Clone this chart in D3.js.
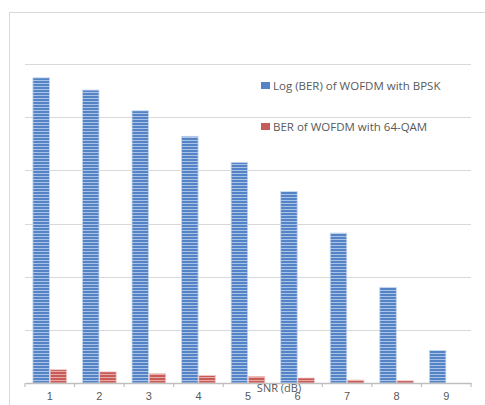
<!DOCTYPE html>
<html>
<head>
<meta charset="utf-8">
<script src="https://cdn.jsdelivr.net/npm/d3@7"></script>
<style>
  body { margin: 0; background: #fff; }
  svg { display: block; font-family: "Open Sans", "Liberation Sans", sans-serif; }
</style>
</head>
<body>
<div id="chart"></div>
<script>
// Data
const snr = [1, 2, 3, 4, 5, 6, 7, 8, 9];
const seriesNames = ["Log (BER) of WOFDM with BPSK", "BER of WOFDM with 64-QAM"];
const bpskValues = [5.74, 5.51, 5.12, 4.64, 4.15, 3.60, 2.82, 1.80, 0.61];
const qamValues = [0.25, 0.21, 0.175, 0.14, 0.125, 0.094, 0.056, 0.043, 0];
const gridValues = [1, 2, 3, 4, 5, 6];

const width = 485;
const height = 405;
const margin = { top: 64, right: 14, bottom: 22, left: 25 };

const svg = d3.select("#chart")
    .append("svg")
    .attr("width", width)
    .attr("height", height);

// striped fills
const defs = svg.append("defs");
function stripes(id, base, light) {
    const p = defs.append("pattern")
        .attr("id", id)
        .attr("patternUnits", "userSpaceOnUse")
        .attr("width", 4)
        .attr("height", 3);
    p.append("rect").attr("width", 4).attr("height", 3).attr("fill", base);
    p.append("rect").attr("y", 2).attr("width", 4).attr("height", 1).attr("fill", light);
}
stripes("blueStripe", "#5584c6", "#a9c2e6");
stripes("redStripe", "#c65b57", "#e7aaa7");

// outer frame
svg.append("rect")
    .attr("x", 9.5)
    .attr("y", 12.5)
    .attr("width", 490)
    .attr("height", 410)
    .attr("fill", "none")
    .attr("stroke", "#d9d9d9");

const x0 = d3.scaleBand()
    .domain(snr)
    .range([margin.left, width - margin.right]);

const x1 = d3.scaleBand()
    .domain(seriesNames)
    .range([0, x0.bandwidth()])
    .paddingInner(0.04)
    .paddingOuter(0.46);

const y = d3.scaleLinear()
    .domain([0, 6])
    .range([height - margin.bottom, margin.top]);

// gridlines
svg.append("g")
    .selectAll("line")
    .data(gridValues)
    .join("line")
    .attr("x1", margin.left)
    .attr("x2", width - margin.right)
    .attr("y1", d => Math.round(y(d)) + 0.5)
    .attr("y2", d => Math.round(y(d)) + 0.5)
    .attr("stroke", "#d9d9d9")
    .attr("stroke-width", 1.2);

// bars
const rows = snr.map((s, i) => ({ snr: s, values: [bpskValues[i], qamValues[i]] }));
const fills = ["url(#blueStripe)", "url(#redStripe)"];
const edges = ["#c5d6ef", "#f0c9c7"];

svg.append("g")
    .selectAll("g")
    .data(rows)
    .join("g")
    .attr("transform", d => `translate(${x0(d.snr)},0)`)
    .selectAll("rect")
    .data(d => d.values.map((v, k) => ({ name: seriesNames[k], k, v })))
    .join("rect")
    .attr("x", d => x1(d.name))
    .attr("y", d => y(d.v))
    .attr("width", x1.bandwidth())
    .attr("height", d => y(0) - y(d.v))
    .attr("fill", d => fills[d.k])
    .attr("stroke", d => d.v > 0 ? edges[d.k] : "none")
    .attr("stroke-width", 0.8);

// x axis
const xAxis = svg.append("g")
    .attr("transform", `translate(0,${y(0)})`)
    .call(d3.axisBottom(x0).tickSize(0).tickPadding(9));
xAxis.select(".domain").attr("stroke", "#bfbfbf").attr("stroke-width", 1.5);
xAxis.selectAll("text")
    .attr("fill", "#595959")
    .style("font-size", "11px");

// boundary ticks
const bounds = snr.map(s => x0(s)).concat([x0.range()[1]]);
xAxis.append("g")
    .selectAll("line")
    .data(bounds)
    .join("line")
    .attr("x1", d => d)
    .attr("x2", d => d)
    .attr("y1", 0)
    .attr("y2", 4)
    .attr("stroke", "#bfbfbf")
    .attr("stroke-width", 1.2);

// axis title
svg.append("text")
    .attr("x", 279)
    .attr("y", 392)
    .attr("text-anchor", "middle")
    .attr("fill", "#595959")
    .style("font-size", "11px")
    .text("SNR (dB)");

// legend
const legendColors = ["#5584c6", "#c65b57"];
const legend = svg.append("g")
    .selectAll("g")
    .data(seriesNames)
    .join("g")
    .attr("transform", (d, i) => `translate(261,${86 + i * 41})`);
legend.append("rect")
    .attr("x", 0)
    .attr("y", -4)
    .attr("width", 9)
    .attr("height", 7)
    .attr("fill", (d, i) => legendColors[i]);
legend.append("text")
    .attr("x", 12)
    .attr("y", 4)
    .attr("fill", "#595959")
    .style("font-size", "11.5px")
    .text(d => d);
</script>
</body>
</html>
